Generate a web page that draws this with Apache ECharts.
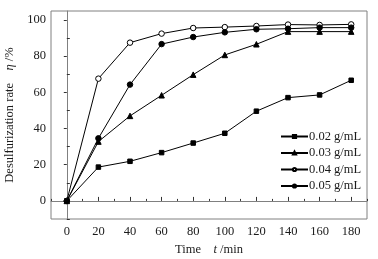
<!DOCTYPE html>
<html><head><meta charset="utf-8">
<script src="https://cdn.jsdelivr.net/npm/echarts@6/dist/echarts.min.js"></script>
<style>html,body{margin:0;padding:0;background:#fff}#c{width:378px;height:259px}</style>
</head><body><div id="c"></div>
<script>
var times = [0, 20, 40, 60, 80, 100, 120, 140, 160, 180];
var seriesNames = ['0.02 g/mL', '0.03 g/mL', '0.04 g/mL', '0.05 g/mL'];
var s002 = [0, 18.7, 21.9, 26.7, 32, 37.4, 49.6, 57.1, 58.6, 66.7];
var s003 = [0, 32.8, 47, 58.4, 69.8, 80.7, 86.6, 93.6, 93.6, 93.6];
var s004 = [0, 67.6, 87.5, 92.5, 95.6, 96.1, 96.7, 97.5, 97.3, 97.6];
var s005 = [0, 34.6, 64.3, 86.7, 90.6, 93.2, 94.9, 95.2, 95.8, 95.8];
var xMajor = [0, 20, 40, 60, 80, 100, 120, 140, 160, 180];
var xMinor = [-10, 10, 30, 50, 70, 90, 110, 130, 150, 170, 190];
var yMajor = [0, 20, 40, 60, 80, 100];
var yMinor = [-10, 10, 30, 50, 70, 90];

var font = '"Liberation Serif", "Times New Roman", serif';
var axisColor = '#808080';
var txt = '#1a1a1a';
function pairs(v){ return times.map(function(t,i){ return [t, v[i]]; }); }

var chart = echarts.init(document.getElementById('c'), null, {renderer:'canvas'});
var common = {type:'line', lineStyle:{color:'#000', width:1}, itemStyle:{color:'#000', borderColor:'#000', borderWidth:1}, animation:false, z:3};
chart.setOption({
  animation:false,
  grid:{left:51, right:11, top:11, bottom:40, show:true, borderColor:axisColor, borderWidth:1, outerBoundsMode:'none', containLabel:false},
  legend:{
    data:seriesNames, orient:'vertical', left:275, top:125,
    itemWidth:27, itemHeight:4, itemGap:3.5,
    textStyle:{fontFamily:font, fontSize:12.5, color:txt, padding:[0,0,0,-4]}
  },
  xAxis:[{
    type:'value', min:-10, max:190,
    name:'Time    {i|t} /min', nameLocation:'middle', nameGap:22,
    nameTextStyle:{fontFamily:font, fontSize:12.5, color:txt, rich:{i:{fontStyle:'italic', fontFamily:font, fontSize:12.5, color:txt}}},
    axisLine:{show:true, lineStyle:{color:axisColor}},
    axisTick:{show:true, inside:true, length:4, customValues:xMajor, lineStyle:{color:'#333'}},
    axisLabel:{customValues:xMajor, fontFamily:font, fontSize:12.5, color:txt, margin:6},
    splitLine:{show:false}
  },{
    type:'value', min:-10, max:190, position:'bottom',
    axisLine:{show:false},
    axisTick:{show:true, inside:true, length:2, customValues:xMinor, lineStyle:{color:'#333'}},
    axisLabel:{show:false}, splitLine:{show:false}
  }],
  yAxis:[{
    type:'value', min:-10, max:105,
    name:'Desulfurization rate    {i|η} /%', nameLocation:'middle', nameGap:32,
    nameTextStyle:{fontFamily:font, fontSize:12.5, color:txt, rich:{i:{fontStyle:'italic', fontFamily:font, fontSize:12.5, color:txt}}},
    axisLine:{show:true, lineStyle:{color:axisColor}},
    axisTick:{show:true, inside:false, length:3, customValues:yMajor, lineStyle:{color:'#333'}},
    axisLabel:{customValues:yMajor, fontFamily:font, fontSize:12.5, color:txt, margin:5},
    splitLine:{show:false}
  },{
    type:'value', min:-10, max:105, position:'left',
    axisLine:{show:false},
    axisTick:{show:true, inside:true, length:3, customValues:yMinor, lineStyle:{color:'#333'}},
    axisLabel:{show:false}, splitLine:{show:false}
  }],
  series:[
    Object.assign({}, common, {name:seriesNames[0], data:pairs(s002), symbol:'rect', symbolSize:4.5}),
    Object.assign({}, common, {name:seriesNames[1], data:pairs(s003), symbol:'triangle', symbolSize:5.5}),
    Object.assign({}, common, {name:seriesNames[2], data:pairs(s004), symbol:'circle', symbolSize:5.5, itemStyle:{color:'#fff', borderColor:'#000', borderWidth:1}}),
    Object.assign({}, common, {name:seriesNames[3], data:pairs(s005), symbol:'circle', symbolSize:5.5})
  ]
});
</script></body></html>
